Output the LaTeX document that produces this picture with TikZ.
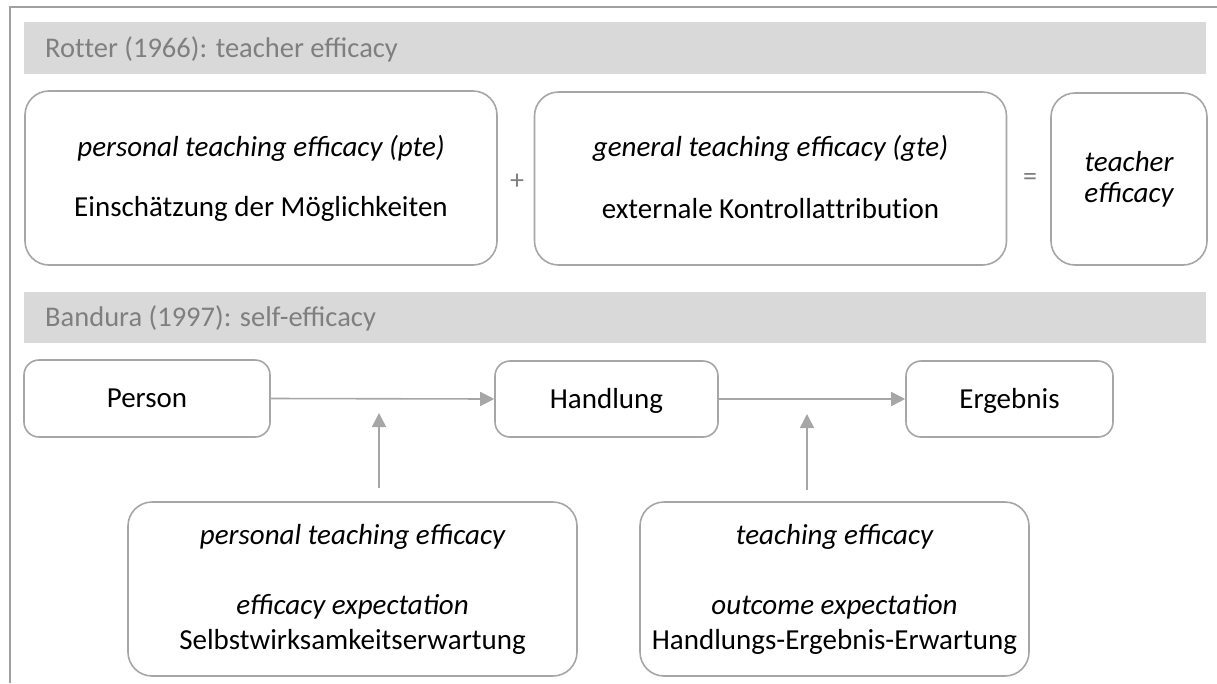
\documentclass[tikz,border=0pt]{standalone}
\usepackage{fontspec}
\setmainfont{Carlito}
\usetikzlibrary{arrows.meta}
\definecolor{frame}{HTML}{A0A0A0}
\definecolor{boxline}{HTML}{A6A6A6}
\definecolor{barfill}{HTML}{D9D9D9}
\definecolor{bartext}{HTML}{7F7F7F}
\definecolor{arrowc}{HTML}{A6A6A6}
\tikzset{
  bigbox/.style={draw=boxline, line width=1.6pt, rounded corners=24pt, fill=white, inner sep=0pt},
  smallbox/.style={draw=boxline, line width=1.6pt, rounded corners=15pt, fill=white, inner sep=0pt, text height=22pt, text depth=4pt, font=\fontsize{29}{34}\selectfont},
  bar/.style={fill=barfill, draw=none, inner sep=0pt},
  bartxt/.style={text=bartext, font=\fontsize{28.5}{34}\selectfont, anchor=west, inner sep=0pt},
  txt/.style={font=\fontsize{29}{34}\selectfont, inner sep=0pt},
  itxt/.style={font=\fontsize{29}{34}\selectfont\itshape, inner sep=0pt},
  optxt/.style={text=bartext, font=\fontsize{28}{32}\selectfont, inner sep=0pt},
  conn/.style={draw=arrowc, line width=1.6pt, -{Triangle[length=14pt,width=14pt]}}
}
\begin{document}
\begin{tikzpicture}[x=1pt,y=-1pt]
\useasboundingbox (0,0) rectangle (1217,683);
% outer frame
\draw[frame, line width=1.6pt] (10,683) -- (10,7) -- (1217,7);
% header bars
\node[bar, minimum width=1182pt, minimum height=52pt] (bar1) at (615,48) {};
\node[bartxt] (bar1t) at (45,49) {Rot\kern0pt ter (1966): teacher efficacy};
\node[bar, minimum width=1182pt, minimum height=51pt] (bar2) at (615,317.5) {};
\node[bartxt] (bar2t) at (45,318) {Bandura (1997): self-efficacy};
% row 1
\node[bigbox, minimum width=472pt, minimum height=174pt] (pte) at (261,178) {};
\node[itxt] at (261,148) {personal teaching efficacy (pte)};
\node[txt] at (261,209) {Einschätzung der Möglichkeiten};
\node[optxt] (plus) at (517,182) {+};
\node[bigbox, minimum width=472pt, minimum height=173pt] (gte) at (770.5,178.5) {};
\node[itxt] at (770.5,148) {general teaching efficacy (gte)};
\node[txt] at (770.5,209) {externale Kontrollat\kern0pt tribut\kern0pt ion};
\node[optxt] (eq) at (1030,179) {=};
\node[bigbox, minimum width=156pt, minimum height=172pt] (te) at (1129,179) {};
\node[itxt] at (1129,162) {teacher};
\node[itxt] at (1129,195) {efficacy};
% row 2
\node[smallbox, minimum width=246pt, minimum height=77pt] (person) at (147,398.5) {Person};
\node[smallbox, minimum width=223pt, minimum height=76pt] (handlung) at (606.5,399) {Handlung};
\node[smallbox, minimum width=207pt, minimum height=76pt] (ergebnis) at (1009.5,399) {Ergebnis};
\draw[conn] (person.east) -- (handlung.west);
\draw[conn] (handlung.east) -- (ergebnis.west);
% bottom boxes
\node[bigbox, minimum width=449pt, minimum height=174pt] (se) at (352.5,589) {};
\node[itxt] at (352.5,537) {personal teaching efficacy};
\node[itxt] at (352.5,607) {efficacy expectation};
\node[txt] at (352.5,642) {Selbstwirksamkeitserwartung};
\node[bigbox, minimum width=389pt, minimum height=174pt] (oe) at (834.5,589) {};
\node[itxt] at (834.5,537) {teaching efficacy};
\node[itxt] at (834.5,607) {outcome expectation};
\node[txt] at (834.5,642) {Handlungs-Ergebnis-Erwartung};
% vertical arrows
\coordinate (a1s) at (379,488);
\coordinate (a1t) at (379,413);
\coordinate (a2s) at (807,490);
\coordinate (a2t) at (807,414);
\draw[conn] (a1s) -- (a1t);
\draw[conn] (a2s) -- (a2t);
\end{tikzpicture}
\end{document}
